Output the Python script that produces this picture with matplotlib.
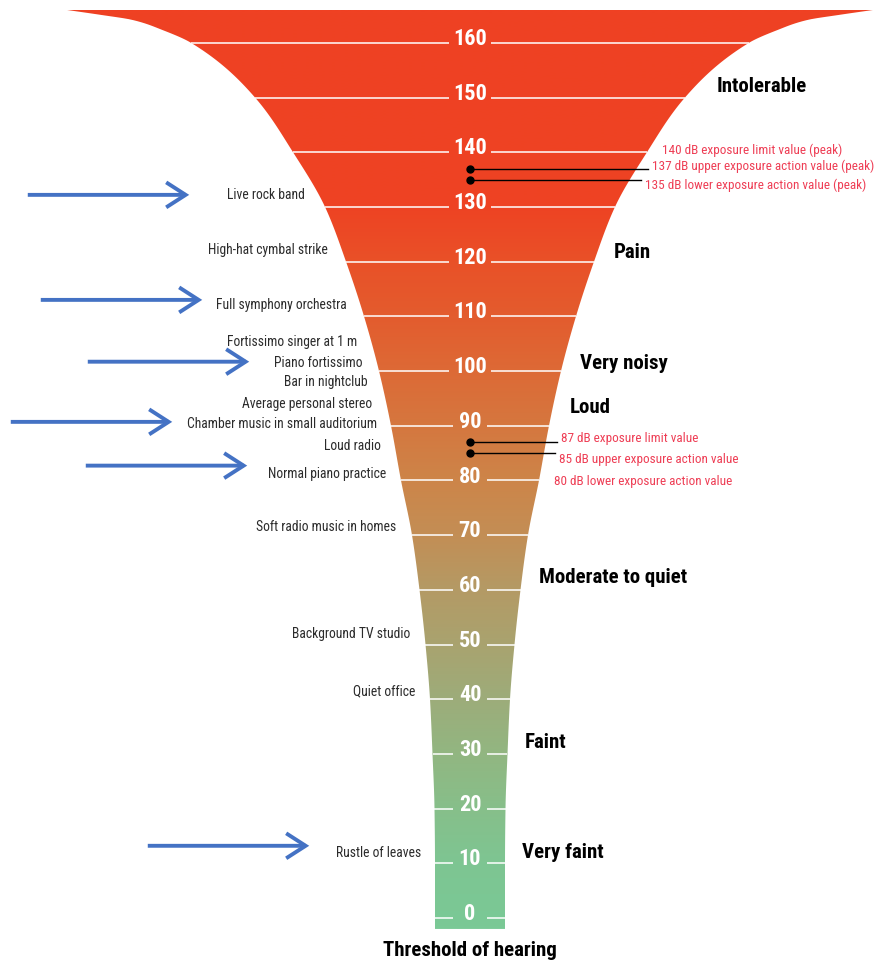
import numpy as np
import matplotlib
matplotlib.use("Agg")
import matplotlib.pyplot as plt
from matplotlib.colors import LinearSegmentedColormap
from matplotlib.patches import Polygon, FancyArrowPatch
from matplotlib import font_manager

# ---- DATA ----
ticks = list(range(0, 161, 10))

# funnel profile: dB level -> half width of the funnel (px)
profile_db = [-2, 0, 10, 20, 30, 40, 50, 60, 70, 80, 90, 100, 110, 120,
              130, 140, 150, 160, 162.3, 164.2, 165.1, 166.0]
profile_hw = [35, 35, 35, 35.5, 37.5, 40, 44.5, 50.5, 58, 69, 79, 91, 106, 124,
              145, 177, 215, 279, 307, 338, 369, 403]

sources = ["Live rock band", "High-hat cymbal strike", "Full symphony orchestra",
           "Fortissimo singer at 1 m", "Piano fortissimo", "Bar in nightclub",
           "Average personal stereo", "Chamber music in small auditorium",
           "Loud radio", "Normal piano practice", "Soft radio music in homes",
           "Background TV studio", "Quiet office", "Rustle of leaves"]
source_db = [132.2, 122.1, 112.1, 105.3, 101.5, 98.0, 94.0, 90.3,
             86.3, 81.2, 71.5, 51.9, 41.5, 11.9]

arrowed = ["Live rock band", "Full symphony orchestra", "Piano fortissimo",
           "Chamber music in small auditorium", "Normal piano practice",
           "Rustle of leaves"]

zones = ["Intolerable", "Pain", "Very noisy", "Loud", "Moderate to quiet",
         "Faint", "Very faint"]
zone_db = [152, 121.6, 101.3, 93.4, 62.3, 32, 11.9]

limit_db = [140, 137, 135, 87, 85, 80]
limit_text = ["140 dB exposure limit value (peak)",
              "137 dB upper exposure action value (peak)",
              "135 dB lower exposure action value (peak)",
              "87 dB exposure limit value",
              "85 dB upper exposure action value",
              "80 dB lower exposure action value"]

# ---- STYLE ----
avail = {f.name for f in font_manager.fontManager.ttflist}
narrow = next((f for f in ["Liberation Sans Narrow", "Roboto Condensed", "Archivo Narrow",
                           "PT Sans Narrow", "Liberation Sans"] if f in avail), "DejaVu Sans")
plt.rcParams["font.family"] = [narrow, "DejaVu Sans"]

grad_stops = [(-2, "#7AC996"), (10, "#7EC592"), (20, "#87BF8A"), (30, "#92B681"),
              (40, "#9DAC7A"), (50, "#A9A36F"), (60, "#B49A65"), (70, "#C38E55"),
              (80, "#CD8549"), (90, "#D5773F"), (100, "#DD6A36"), (110, "#E35C2E"),
              (120, "#E95128"), (130, "#EE4323"), (166.0, "#EF4123")]
RED = "#EE3E55"
BLUE = "#4472C4"
cx = 470
W, H = 882, 966


def pchip(x, y, xn):
    x, y = np.asarray(x, float), np.asarray(y, float)
    h = np.diff(x)
    d = np.diff(y) / h
    m = np.zeros_like(y)
    for k in range(1, len(x) - 1):
        if d[k - 1] * d[k] > 0:
            w1, w2 = 2 * h[k] + h[k - 1], h[k] + 2 * h[k - 1]
            m[k] = (w1 + w2) / (w1 / d[k - 1] + w2 / d[k])
    m[0], m[-1] = d[0], d[-1]
    i = np.clip(np.searchsorted(x, xn) - 1, 0, len(h) - 1)
    t = (xn - x[i]) / h[i]
    return ((2 * t ** 3 - 3 * t ** 2 + 1) * y[i] + (t ** 3 - 2 * t ** 2 + t) * h[i] * m[i]
            + (-2 * t ** 3 + 3 * t ** 2) * y[i + 1] + (t ** 3 - t ** 2) * h[i] * m[i + 1])


cdb = np.linspace(profile_db[0], profile_db[-1], 900)
chw = pchip(profile_db, profile_hw, cdb)


def hw(v):
    return float(np.interp(v, cdb, chw))


# pixel row -> dB mapping: y_px = 918 - 5.47 * dB
fig = plt.figure(figsize=(W / 100, H / 100), dpi=100)
ax = fig.add_axes([0, 0, 1, 1])
ax.set_xlim(0, W)
ax.set_ylim((918 - H) / 5.47, 918 / 5.47)
ax.axis("off")

# ---- FUNNEL ----
left = np.column_stack([cx - chw, cdb])
right = np.column_stack([cx + chw, cdb])[::-1]
poly = Polygon(np.vstack([left, right]), closed=True, facecolor="none", edgecolor="none")
ax.add_patch(poly)

lo, hi = grad_stops[0][0], grad_stops[-1][0]
cmap = LinearSegmentedColormap.from_list(
    "funnel", [((d - lo) / (hi - lo), c) for d, c in grad_stops])
grad = np.linspace(0, 1, 512)[:, None]
im = ax.imshow(grad, cmap=cmap, aspect="auto", origin="lower",
               extent=[cx - 410, cx + 410, lo, hi], interpolation="bilinear")
im.set_clip_path(poly)

# tick lines + numbers
for v in ticks:
    gap = 21 if v >= 100 else 17
    w = hw(v)
    ax.plot([cx - w, cx - gap], [v, v], color="white", lw=1.1, solid_capstyle="butt")
    ax.plot([cx + gap, cx + w], [v, v], color="white", lw=1.1, solid_capstyle="butt")
    ax.text(cx, v - 0.4, str(v), color="white", fontsize=16, fontweight="bold",
            ha="center", va="baseline")

# ---- LEFT: sound sources ----
for name, v in zip(sources, source_db):
    ax.text(cx - hw(v) - 14, v, name, color="#2b2b2b", fontsize=9.8,
            ha="right", va="center")

arrow_tip = [192, 205, 252, 175, 250, 312]
arrow_dy = [0, 0.9, 0.2, 0.4, 1.5, 1.3]
for name, tip, dy in zip(arrowed, arrow_tip, arrow_dy):
    v = source_db[sources.index(name)] + dy
    ax.add_patch(FancyArrowPatch((tip - 167, v), (tip, v),
                                 arrowstyle="->,head_length=0.7,head_width=0.45",
                                 mutation_scale=20, color=BLUE, lw=2.8,
                                 capstyle="butt", joinstyle="miter"))

# ---- RIGHT: zones ----
for name, v in zip(zones, zone_db):
    gap = 22 if name == "Intolerable" else 17
    ax.text(cx + hw(v) + gap, v, name, color="black", fontsize=15,
            fontweight="bold", ha="left", va="center")
ax.text(cx, (918 - 950) / 5.47, "Threshold of hearing", color="black",
        fontsize=15, fontweight="bold", ha="center", va="center")

# ---- exposure values ----
text_dy = [0.4, 0.5, -1.0, 0.7, -1.1, -0.2]
for v, txt, dy in zip(limit_db, limit_text, text_dy):
    tx = cx + hw(v) + 15
    if v % 10:
        ax.plot([cx, tx - 4], [v, v], color="black", lw=1.0)
        ax.plot(cx, v, "o", color="black", ms=5)
    ax.text(tx, v + dy, txt, color=RED, fontsize=9.5, ha="left", va="center")

plt.savefig("out.png", dpi=100)
